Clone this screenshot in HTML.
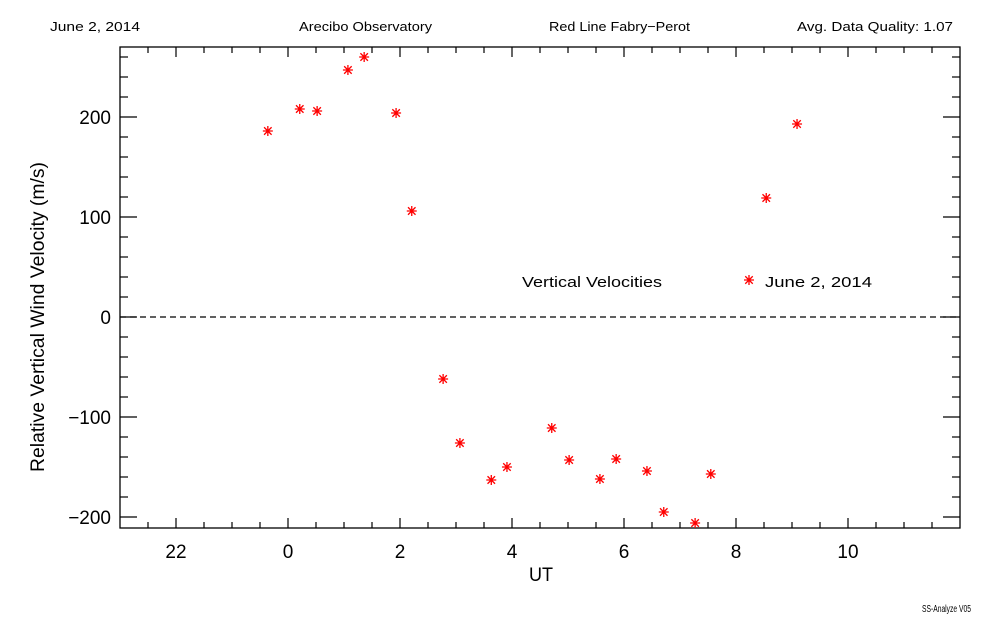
<!DOCTYPE html>
<html><head><meta charset="utf-8"><style>
body{margin:0;background:#fff;width:1000px;height:625px;overflow:hidden;font-family:"Liberation Sans",sans-serif}
svg text{font-family:"Liberation Sans",sans-serif;fill:#000}
</style></head><body>
<svg id="c" width="1000" height="625">
<text x="50" y="31" font-size="13" textLength="90" lengthAdjust="spacingAndGlyphs">June 2, 2014</text>
<text x="299" y="31" font-size="13" textLength="133" lengthAdjust="spacingAndGlyphs">Arecibo Observatory</text>
<text x="549" y="31" font-size="13" textLength="141" lengthAdjust="spacingAndGlyphs">Red Line Fabry−Perot</text>
<text x="797" y="31" font-size="13" textLength="156" lengthAdjust="spacingAndGlyphs">Avg. Data Quality: 1.07</text>
<text x="922" y="612" font-size="10" textLength="49" lengthAdjust="spacingAndGlyphs">SS-Analyze V05</text>
<text x="529" y="581" font-size="19" textLength="24" lengthAdjust="spacingAndGlyphs">UT</text>
<text transform="translate(44,472) rotate(-90)" font-size="19" textLength="310" lengthAdjust="spacingAndGlyphs">Relative Vertical Wind Velocity (m/s)</text>
<text x="522" y="287" font-size="15" textLength="140" lengthAdjust="spacingAndGlyphs">Vertical Velocities</text>
<text x="765" y="287" font-size="15" textLength="107" lengthAdjust="spacingAndGlyphs">June 2, 2014</text>
<g id="g"></g>
</svg>
<script>
const xHours=[-0.36,0.21,0.52,1.07,1.36,1.93,2.21,2.77,3.07,3.63,3.91,4.71,5.02,5.57,5.86,6.41,6.71,7.27,7.55,8.54,9.09];
const velocity=[186,208,206,247,260,204,106,-62,-126,-163,-150,-111,-143,-162,-142,-154,-195,-206,-157,119,193];
const xTickVals=[-2,0,2,4,6,8,10];
const xTickLabels=["22","0","2","4","6","8","10"];
const yTickVals=[-200,-100,0,100,200];
const yTickLabels=["−200","−100","0","100","200"];
const L=120,R=960,T=47,B=528,x0=-3,x1=12,y0=-211,y1=270;
const X=v=>L+(v-x0)/(x1-x0)*(R-L);
const Y=v=>B-(v-y0)/(y1-y0)*(B-T);
const g=document.getElementById('g');const NS='http://www.w3.org/2000/svg';
function mk(t,a){const e=document.createElementNS(NS,t);for(const k in a)e.setAttribute(k,a[k]);g.appendChild(e);return e;}
let e=mk('rect',{x:L,y:T,width:R-L,height:B-T,fill:'none',stroke:'#000','stroke-width':1.3});


for(let h=x0+0.5;h<x1;h+=0.5){const major=Math.abs(h%2)<1e-6;const len=major?10:6;
mk('line',{x1:X(h),x2:X(h),y1:B,y2:B-len,stroke:'#000','stroke-width':1.2});
mk('line',{x1:X(h),x2:X(h),y1:T,y2:T+len,stroke:'#000','stroke-width':1.2});}
for(let v=-200;v<=260;v+=20){const major=v%100===0;const len=major?17:8;
mk('line',{x1:L,x2:L+len,y1:Y(v),y2:Y(v),stroke:'#000','stroke-width':1.2});
mk('line',{x1:R,x2:R-len,y1:Y(v),y2:Y(v),stroke:'#000','stroke-width':1.2});}
xTickVals.forEach((v,i)=>{const t=mk('text',{x:X(v),y:B+30,'font-size':19,'text-anchor':'middle'});t.textContent=xTickLabels[i];

});
yTickVals.forEach((v,i)=>{const t=mk('text',{x:L-9,y:Y(v)+7,'font-size':19,'text-anchor':'end'});t.textContent=yTickLabels[i];

});
e=mk('line',{x1:L,x2:R,y1:Y(0),y2:Y(0),stroke:'#000','stroke-width':1.2,'stroke-dasharray':'6,4'});


function star(cx,cy){const s=5;const p=mk('path',{d:`M${cx-s},${cy}H${cx+s}M${cx},${cy-s}V${cy+s}M${cx-s*0.75},${cy-s*0.75}L${cx+s*0.75},${cy+s*0.75}M${cx-s*0.75},${cy+s*0.75}L${cx+s*0.75},${cy-s*0.75}`,stroke:'#f00','stroke-width':1.3,fill:'none'});return p;}
xHours.forEach((h,i)=>{const p=star(X(h),Y(velocity[i]));

});
const ls=star(749,280);


</script>
</body></html>
